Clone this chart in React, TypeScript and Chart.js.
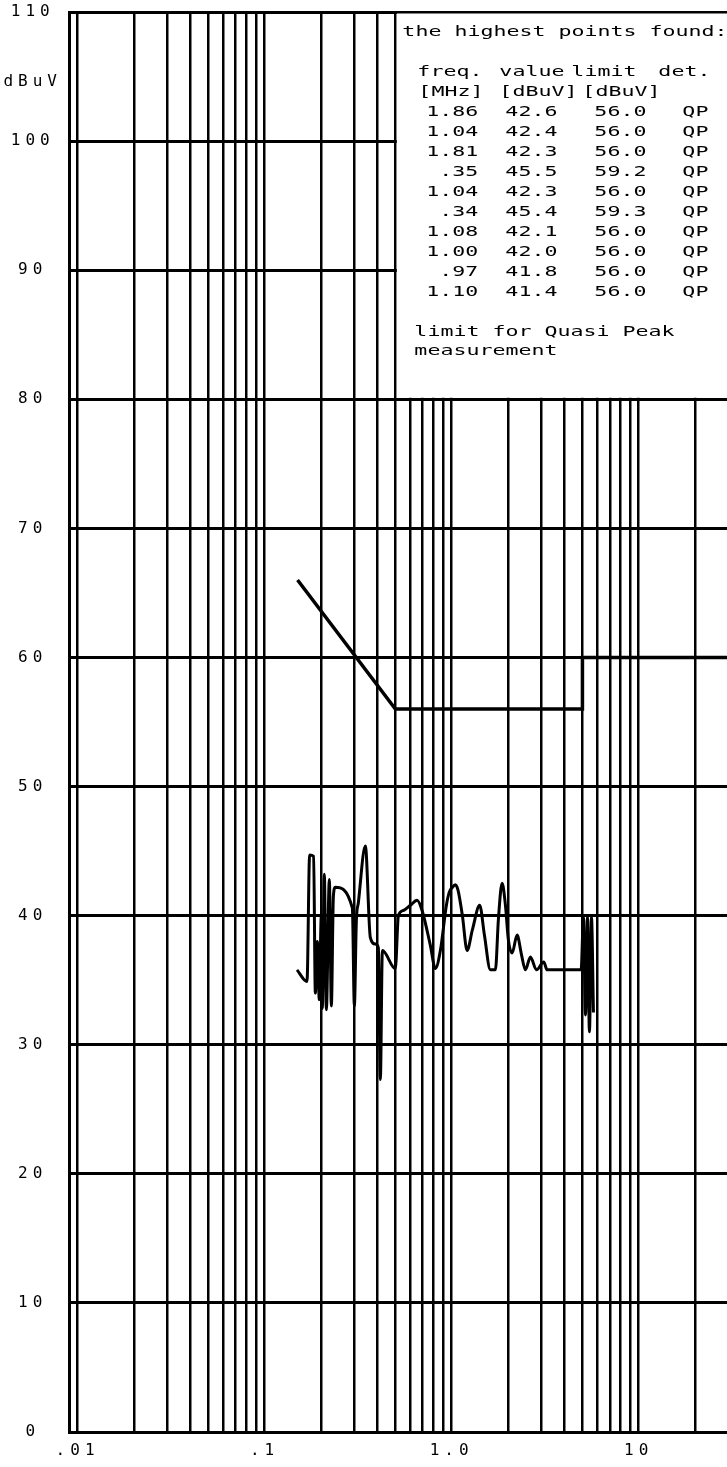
import React, { useEffect, useRef } from 'react';
import { Chart, registerables } from 'chart.js';

Chart.register(...registerables);

// ---- measured trace (MHz / dBuV) ----
const traceFreqMHz = [0.149, 0.1685, 0.174, 0.1828, 0.1867, 0.1913, 0.196, 0.2009, 0.2034, 0.2085, 0.2138, 0.2218, 0.2274, 0.2331, 0.2389, 0.2944, 0.3018, 0.3093, 0.317, 0.3455, 0.3674, 0.3908, 0.4055, 0.4156, 0.4261, 0.4999, 0.5188, 0.5516, 0.6013, 0.6531, 0.6947, 0.769, 0.818, 0.87, 0.937, 0.97, 1.009, 1.045, 1.08, 1.141, 1.209, 1.29, 1.412, 1.496, 1.61, 1.713, 1.777, 1.86, 1.938, 2.01, 2.104, 2.237, 2.359, 2.478, 2.636, 2.838, 3.105, 3.237, 4.92, 5.063, 5.19, 5.32, 5.45, 5.587, 5.726];
const traceLevel = [35.8, 34.9, 44.7, 44.6, 34.0, 38.0, 33.5, 40.0, 32.8, 43.2, 32.7, 42.8, 33.0, 41.5, 42.2, 40.6, 33.0, 39.6, 41.0, 45.4, 38.3, 37.8, 37.5, 27.3, 37.3, 35.9, 40.0, 40.4, 40.8, 41.2, 40.4, 37.7, 35.9, 37.3, 40.8, 41.8, 42.2, 42.4, 42.0, 40.0, 37.3, 38.9, 40.8, 38.5, 35.8, 35.8, 39.7, 42.5, 40.8, 38.1, 37.1, 38.5, 37.0, 35.8, 36.8, 35.8, 36.4, 35.8, 35.8, 39.9, 32.3, 39.9, 31.0, 39.9, 32.5];

// ---- quasi-peak limit ----
const limitFreqMHz = [0.15, 0.5, 5, 5, 30];
const limitLevel = [66, 56, 56, 60, 60];

// ---- axes ----
const xMin = 0.009;
const xMax = 30;
const xDecades = [0.01, 0.1, 1, 10];
const xLabelTicks = [0.01, 0.1, 1, 10];
const xLabelTexts = ['.01', '.1', '1.0', '10'];
const yTicks = [0, 10, 20, 30, 40, 50, 60, 70, 80, 90, 100, 110];
const yUnitLabel = 'dBuV';
const yUnitPos = 104.6;

// ---- table of highest points ----
const tableTitle = 'the highest points found:';
const tableHeader = ['freq.', 'value', 'limit', 'det.'];
const tableUnits = ['[MHz]', '[dBuV]', '[dBuV]'];
const peakFreq = ['1.86', '1.04', '1.81', '.35', '1.04', '.34', '1.08', '1.00', '.97', '1.10'];
const peakValue = ['42.6', '42.4', '42.3', '45.5', '42.3', '45.4', '42.1', '42.0', '41.8', '41.4'];
const peakLimit = ['56.0', '56.0', '56.0', '59.2', '56.0', '59.3', '56.0', '56.0', '56.0', '56.0'];
const peakDet = ['QP', 'QP', 'QP', 'QP', 'QP', 'QP', 'QP', 'QP', 'QP', 'QP'];
const limitNote = ['limit for Quasi Peak', 'measurement'];
const tableBoxFromMHz = 0.5;
const tableBoxTop = 110;
const tableBoxBottom = 80;

const xGrid: number[] = [];
xDecades.forEach((d) => {
  for (let m = 1; m <= 9; m++) {
    const v = +(m * d).toPrecision(6);
    if (v <= xMax) xGrid.push(v);
  }
});

const FONT = '"DejaVu Sans Mono", monospace';

function drawStretched(ctx: any, text: string, x: number, y: number, align: string) {
  ctx.save();
  ctx.translate(x, y);
  ctx.scale(1.6, 1);
  ctx.textAlign = align;
  ctx.textBaseline = 'alphabetic';
  ctx.fillText(text, 0, 0);
  ctx.restore();
}

const peakTablePlugin = {
  id: 'peakTable',
  beforeLayout(chart: any) {
    chart.ctx.letterSpacing = '5px';
  },
  beforeDraw(chart: any) {
    const ctx = chart.ctx;
    ctx.letterSpacing = '5px';
    ctx.save();
    ctx.fillStyle = '#ffffff';
    ctx.fillRect(0, 0, chart.width, chart.height);
    ctx.restore();
  },
  beforeDatasetsDraw(chart: any) {
    const ctx = chart.ctx;
    const xs = chart.scales.x;
    const ys = chart.scales.y;
    const x0 = xs.getPixelForValue(tableBoxFromMHz);
    const y0 = ys.getPixelForValue(tableBoxTop);
    const y1 = ys.getPixelForValue(tableBoxBottom);
    ctx.save();
    ctx.fillStyle = '#ffffff';
    ctx.fillRect(x0 + 1.5, y0 + 1.5, chart.width - x0, y1 - y0 - 3);
    ctx.letterSpacing = '0px';
    ctx.fillStyle = '#000';
    ctx.font = `13.5px ${FONT}`;
    const o = x0 - 396;
    drawStretched(ctx, tableTitle, 403 + o, 36, 'left');
    const hx = [418, 500, 572, 659];
    tableHeader.forEach((t, i) => drawStretched(ctx, t, hx[i] + o, 76, 'left'));
    const ux = [419, 500, 583];
    tableUnits.forEach((t, i) => drawStretched(ctx, t, ux[i] + o, 96, 'left'));
    for (let i = 0; i < peakFreq.length; i++) {
      const by = 116 + i * 20;
      drawStretched(ctx, peakFreq[i], 479 + o, by, 'right');
      drawStretched(ctx, peakValue[i], 506 + o, by, 'left');
      drawStretched(ctx, peakLimit[i], 595 + o, by, 'left');
      drawStretched(ctx, peakDet[i], 683 + o, by, 'left');
    }
    drawStretched(ctx, limitNote[0], 415 + o, 336, 'left');
    drawStretched(ctx, limitNote[1], 415 + o, 355, 'left');
    ctx.restore();
  },
};

export default function App() {
  const canvasRef = useRef<HTMLCanvasElement | null>(null);

  useEffect(() => {
    const canvas = canvasRef.current;
    if (!canvas) return;
    const chart = new Chart(canvas, {
      type: 'line',
      data: {
        datasets: [
          {
            label: 'trace',
            data: traceFreqMHz.map((f, i) => ({ x: f, y: traceLevel[i] })),
            borderColor: '#000',
            borderWidth: 3,
            pointRadius: 0,
            fill: false,
            cubicInterpolationMode: 'monotone',
          },
          {
            label: 'limit',
            data: limitFreqMHz.map((f, i) => ({ x: f, y: limitLevel[i] })),
            borderColor: '#000',
            borderWidth: 3.5,
            pointRadius: 0,
            fill: false,
            tension: 0,
          },
        ],
      } as any,
      options: {
        animation: false,
        responsive: false,
        devicePixelRatio: 1,
        layout: { padding: { top: 12, right: 2, left: 0, bottom: 0 } },
        plugins: {
          legend: { display: false },
          tooltip: { enabled: false },
          title: { display: false },
        },
        scales: {
          x: {
            type: 'logarithmic',
            min: xMin,
            max: xMax,
            afterBuildTicks: (s: any) => {
              s.ticks = xGrid.map((v) => ({ value: v }));
            },
            afterFit: (s: any) => {
              s.height = 35;
              s.paddingLeft = 0;
              s.paddingRight = 0;
            },
            ticks: {
              autoSkip: false,
              maxRotation: 0,
              minRotation: 0,
              padding: 9,
              color: '#000',
              font: { family: FONT, size: 16 },
              callback: (v: any) => {
                const i = xLabelTicks.findIndex((t) => Math.abs(t - v) < t * 1e-6);
                return i >= 0 ? xLabelTexts[i] : '';
              },
            },
            grid: { color: '#000', lineWidth: 2.5, drawTicks: false },
            border: { display: true, color: '#000', width: 3 },
          },
          y: {
            type: 'linear',
            min: 0,
            max: 110,
            afterBuildTicks: (s: any) => {
              s.ticks = yTicks.map((v) => ({ value: v })).concat([{ value: yUnitPos }]);
            },
            afterFit: (s: any) => {
              s.width = 69;
              s.paddingTop = 0;
              s.paddingBottom = 0;
            },
            ticks: {
              autoSkip: false,
              crossAlign: 'center',
              padding: 7,
              color: '#000',
              font: { family: FONT, size: 16 },
              callback: (v: any) => (v === yUnitPos ? yUnitLabel : String(v)),
            },
            grid: {
              color: (c: any) => (c.tick && c.tick.value === yUnitPos ? 'rgba(0,0,0,0)' : '#000'),
              lineWidth: 3,
              drawTicks: false,
            },
            border: { display: true, color: '#000', width: 3 },
          },
        },
      } as any,
      plugins: [peakTablePlugin as any],
    });
    return () => chart.destroy();
  }, []);

  return (
    <div
      style={{
        position: 'absolute',
        left: 0,
        top: 0,
        width: 727,
        height: 1467,
        overflow: 'hidden',
        background: '#fff',
      }}
    >
      <canvas ref={canvasRef} width={730} height={1467} style={{ display: 'block' }} />
    </div>
  );
}
